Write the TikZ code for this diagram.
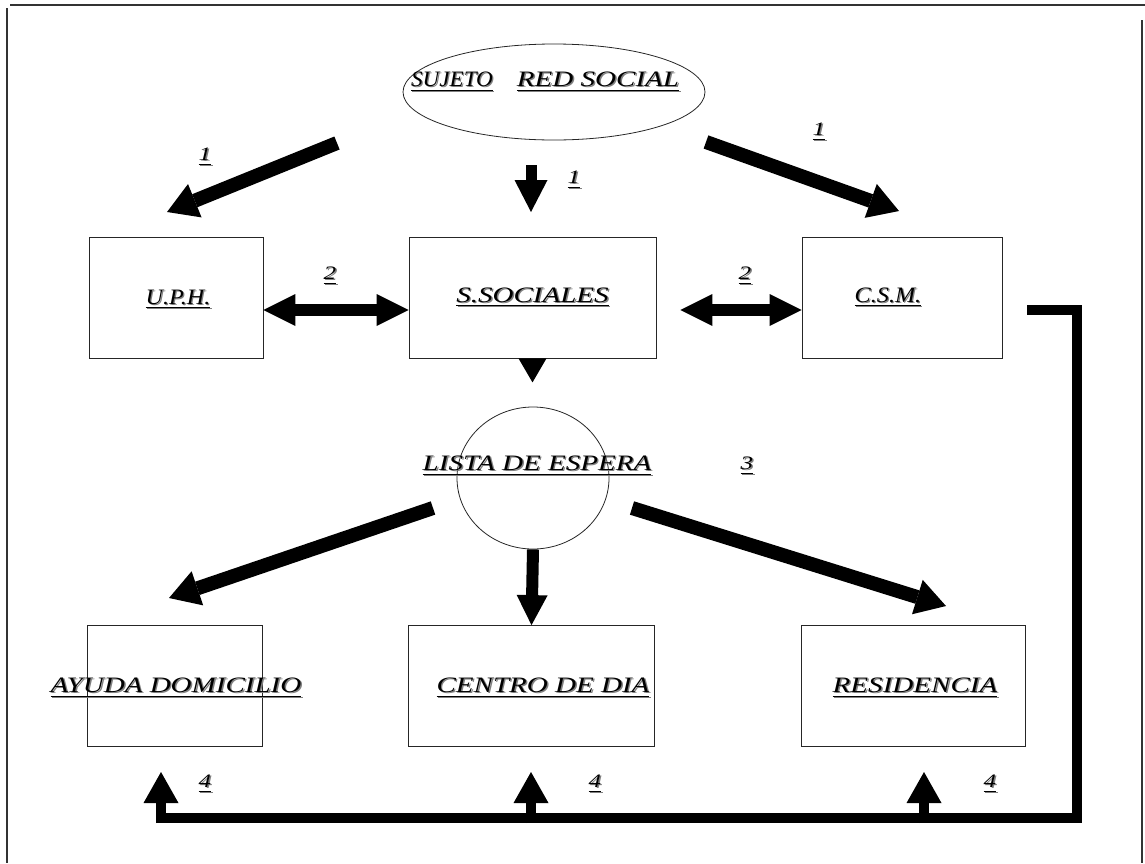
\documentclass[tikz,border=0pt]{standalone}
\usepackage{fontspec}
\setmainfont{Liberation Serif}
\usepackage{graphicx}
\usetikzlibrary{arrows.meta,shapes.geometric,calc}
\newcommand{\labx}[2]{\scalebox{#1}[1]{\setbox0\hbox{\itshape #2}\rlap{\textcolor{black!50}{\kern1.1pt\raisebox{-1.1pt}{\rlap{\rule[-4pt]{\wd0}{1.1pt}}\copy0}}}\rlap{\rule[-4pt]{\wd0}{1.1pt}}\box0}}
\newcommand{\lab}[1]{\labx{1.32}{#1}}
\begin{document}
\begin{tikzpicture}[x=1pt,y=-1pt,
  box/.style={draw=black!85,line width=0.8pt,rectangle,inner sep=0pt,minimum width=#1,minimum height=121pt},
  txt/.style={inner sep=0pt,font=\fontsize{22}{26}\selectfont},
  num/.style={inner sep=0pt,font=\fontsize{19}{22}\selectfont},
  fat/.style={line width=14pt,-{Triangle[length=30pt,width=36pt,line width=0pt]}},
  fatdown/.style={line width=11pt,-{Triangle[length=32pt,width=33pt,line width=0pt]}},
  dbl/.style={line width=12pt,{Triangle[length=32pt,width=32pt,line width=0pt]}-{Triangle[length=32pt,width=32pt,line width=0pt]}},
  uparr/.style={line width=10pt,-{Triangle[length=31pt,width=35pt,line width=0pt]}},
  fb/.style={line width=10.5pt,line join=miter,line cap=butt},
  frame/.style={line width=1.3pt,black!80}]
\useasboundingbox (0,0) rectangle (1145,863);
% frame
\draw[frame] (10,5) -- (1145,5);
\draw[frame] (7,8) -- (7,863);
\draw[frame] (1142,20) -- (1142,863);
% ellipse
\node[draw=black!85,line width=0.8pt,ellipse,minimum width=302pt,minimum height=96pt,inner sep=0pt] (el) at (554,92) {};
\node[txt] (suj) at (452,82) {\labx{1.05}{SUJETO}};
\node[txt] (red) at (598,82) {\lab{RED SOCIAL}};
% top boxes
\node[box=174pt] (uph) at (176,297.5) {};
\node[box=247pt] (ss) at (532.5,297.5) {};
\node[box=200pt] (csm) at (902,297.5) {};
\node[txt] (upht) at ($(uph.center)+(2,2)$) {\labx{1.1}{U.P.H.}};
\node[txt] (sst) at (ss.center) {\lab{S.SOCIALES}};
\node[txt] (csmt) at ($(csm.center)+(-14,0)$) {\labx{1.1}{C.S.M.}};
% arrows from ellipse
\coordinate (a1s) at (337,143); \coordinate (a1e) at (167,212);
\coordinate (a2s) at (531,165); \coordinate (a2e) at (531,212);
\coordinate (a3s) at (706,142); \coordinate (a3e) at (899,211);
\draw[fat] (a1s) -- (a1e);
\draw[fatdown] (a2s) -- (a2e);
\draw[fat] (a3s) -- (a3e);
\node[num] (n1a) at (205,157) {\lab{1}};
\node[num] (n1b) at (574,180) {\lab{1}};
\node[num] (n1c) at (819,132) {\lab{1}};
% double arrows
\draw[dbl] (uph.east |- 0,310) -- (ss.west |- 0,310);
\draw[dbl] ($(ss.east)+(24,12.5)$) -- (csm.west |- 0,310);
\node[num] (n2a) at (330,276) {\lab{2}};
\node[num] (n2b) at (745,276) {\lab{2}};
% triangle under S.SOCIALES
\fill ($(ss.south)+(-14,0)$) -- ($(ss.south)+(14,0)$) -- ($(ss.south)+(0,24)$) -- cycle;
% circle
\node[draw=black!85,line width=0.8pt,ellipse,minimum width=152pt,minimum height=142pt,inner sep=0pt] (lista) at (533,478) {};
\node[txt] (listatxt) at (537,466) {\lab{LISTA DE ESPERA}};
\node[num] (n3) at (747,466) {\lab{3}};
% bottom boxes
\node[box=175pt] (ayuda) at (174.5,686) {};
\node[box=246pt] (centro) at (531.5,686) {};
\node[box=224pt] (resid) at (913,686) {};
\node[txt] (ayudat) at (176,688) {\lab{AYUDA DOMICILIO}};
\node[txt] (centrot) at (543,688) {\lab{CENTRO DE DIA}};
\node[txt] (residt) at (915,688) {\lab{RESIDENCIA}};
% arrows from circle
\coordinate (b1s) at (433,508); \coordinate (b1e) at (169,598);
\coordinate (b3s) at (632,508); \coordinate (b3e) at (946,606);
\draw[fat] (b1s) -- (b1e);
\draw[line width=12pt,-{Triangle[length=30pt,width=31pt,line width=0pt]}] (lista.south) -- (centro.north);
\draw[fat] (b3s) -- (b3e);
% feedback line
\coordinate (fs) at ($(csm.east)+(25,12.5)$);
\coordinate (fc1) at (1077,310);
\coordinate (fc2) at (1077,818);
\coordinate (f1) at (158,818);
\coordinate (f2) at (531,818);
\coordinate (f3) at (924,818);
\draw[fb] (fs) -- (fc1) -- (fc2) -- (f1);
\draw[uparr] ($(f1)+(3,5)$) -- ++(0,-51);
\draw[uparr] ($(f2)+(0,5)$) -- ++(0,-51);
\draw[uparr] ($(f3)+(0,5)$) -- ++(0,-51);
\node[num] (n4a) at (205,784) {\lab{4}};
\node[num] (n4b) at (595,784) {\lab{4}};
\node[num] (n4c) at (990,784) {\lab{4}};
\end{tikzpicture}
\end{document}
